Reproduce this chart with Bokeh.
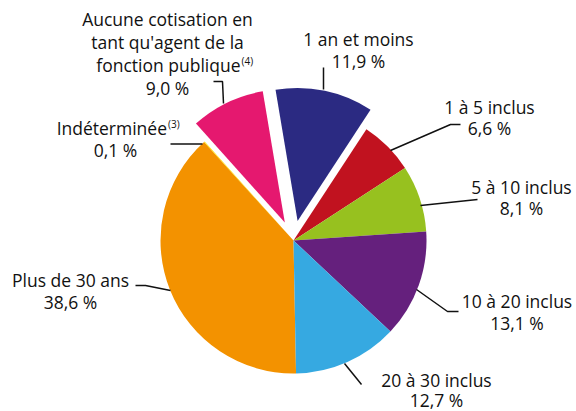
import math
from bokeh.plotting import figure
from bokeh.models import Range1d, ColumnDataSource
from bokeh.core.properties import value
from bokeh.embed import file_html
from bokeh.resources import INLINE

# ---- data (clockwise from 6 o'clock) ----
categories = ["Plus de 30 ans", "Indéterminée", "Aucune cotisation",
              "1 an et moins", "1 à 5 inclus", "5 à 10 inclus",
              "10 à 20 inclus", "20 à 30 inclus"]
values = [38.6, 0.1, 9.0, 11.9, 6.6, 8.1, 13.1, 12.7]
colors = ["#f39200", "#ffe100", "#e5186f", "#2b2a82", "#c1121f",
          "#97c11f", "#65207d", "#36a9e1"]
label_lines = [["Plus de 30 ans"],
               ["Indéterminée"],
               ["Aucune cotisation en", "tant qu'agent de la", "fonction publique"],
               ["1 an et moins"],
               ["1 à 5 inclus"],
               ["5 à 10 inclus"],
               ["10 à 20 inclus"],
               ["20 à 30 inclus"]]
notes = ["", "(3)", "(4)", "", "", "", "", ""]
explode = [0, 0, 20, 20, 0, 0, 0, 0]

# ---- layout (reference pixel coordinates, y down) ----
CX, CY, R = 293, 240, 133
BASE = -88.9  # degrees, math orientation
label_pos = [  # x, first baseline, line spacing
    (70, 286, 21.3),
    (115, 134, 22),
    (167, 25, 23),
    (358, 45, 21.7),
    (489, 113, 21),
    (521, 192.5, 21),
    (516.5, 307, 22),
    (436, 385.5, 20.5),
]
note_right = {1: 166.5, 2: 240}
leaders = [
    [(170, 290), (145, 285), (135, 285)],
    [(202, 143.5), (170, 143.5)],
    [(223, 103), (222, 81), (213, 81)],
    [(323, 89), (323, 67)],
    [(390, 150), (450, 124), (460, 124)],
    [(420, 205), (477, 199)],
    [(416, 289), (447, 311), (458, 311)],
    [(344, 363), (361, 384)],
]

FONT = value("Open Sans")
FS = 17.5
NFS = 10
DY = 0.36  # baseline correction, fraction of font size

p = figure(width=576, height=411, x_range=Range1d(0, 576), y_range=Range1d(-411, 0),
           output_backend="svg", toolbar_location=None, min_border=0,
           x_axis_location=None, y_axis_location=None)
p.grid.visible = False
p.outline_line_color = None
p.background_fill_color = "white"
p.border_fill_color = "white"

total = sum(values)
cum = 0.0
xs, ys, sa, ea, cols = [], [], [], [], []
for i, v in enumerate(values):
    a0 = BASE - 360.0 * cum / total
    cum += v
    a1 = BASE - 360.0 * cum / total
    mid = math.radians((a0 + a1) / 2)
    xs.append(CX + explode[i] * math.cos(mid))
    ys.append(-CY + explode[i] * math.sin(mid))
    sa.append(math.radians(a1))
    ea.append(math.radians(a0))
    cols.append(colors[i])

src = ColumnDataSource(dict(x=xs, y=ys, sa=sa, ea=ea, c=cols))
p.wedge(x="x", y="y", radius=R, start_angle="sa", end_angle="ea",
        fill_color="c", line_color=None, source=src)

# leader lines
for pts in leaders:
    p.line([q[0] for q in pts], [-q[1] for q in pts], line_color="#111111",
           line_width=1.5)

# labels
tx, ty, tt, tal = [], [], [], []
nx, ny, nt = [], [], []
for i, lines in enumerate(label_lines):
    x0, b0, sp = label_pos[i]
    pct = ("%.1f" % values[i]).replace(".", ",") + " %"
    all_lines = lines + [pct]
    for j, line in enumerate(all_lines):
        yb = b0 + j * sp - DY * FS
        if notes[i] and j == len(lines) - 1:
            tx.append(note_right[i]); ty.append(-yb); tt.append(line); tal.append("right")
            nx.append(note_right[i] + 1)
            ny.append(-(b0 + j * sp - 6.5 - DY * NFS)); nt.append(notes[i])
        else:
            tx.append(x0); ty.append(-yb); tt.append(line); tal.append("center")

p.text(x=tx, y=ty, text=tt, text_align=tal, text_baseline="alphabetic",
       text_font=FONT, text_font_size="%gpx" % FS, text_color="#111111")
p.text(x=nx, y=ny, text=nt, text_align="left", text_baseline="alphabetic",
       text_font=FONT, text_font_size="%gpx" % NFS, text_color="#111111")

open("out.html", "w").write(file_html(p, INLINE))
